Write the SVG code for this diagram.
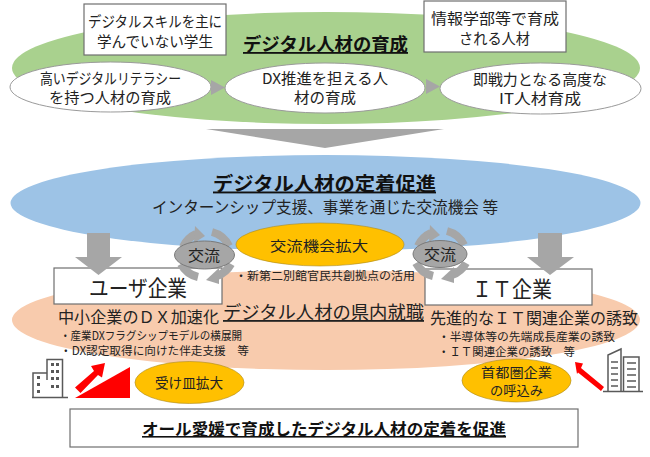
<svg xmlns="http://www.w3.org/2000/svg" width="650" height="457" viewBox="0 0 650 457">
<style>
text{font-family:"Noto Sans CJK JP","Noto Sans CJK SC",sans-serif;fill:#222;text-anchor:start}
.s12{font-size:11.500px}.s13{font-size:13px}.s14{font-size:14px}.s15{font-size:15px}.s16{font-size:16px}.s18{font-size:18px}.s19{font-size:19px}.s22{font-size:22px}
.b{font-weight:700;fill:#111}.u{text-decoration:underline}
.box{fill:#fff;stroke:#6f6f6f;stroke-width:1.2}
.oval{fill:#fff;stroke:#9a9a9a;stroke-width:1}
.yel{fill:#ffc000;stroke:#a98a20;stroke-width:.6}
.ar{fill:#a6a6a6}
.rot{fill:none;stroke:#a6a6a6;stroke-width:8}
.kou{fill:#a6a6a6;stroke:#7a7a7a;stroke-width:1}
.bl{fill:none;stroke:#595959;stroke-width:1.5}
.win{fill:#595959}
</style>
<defs>
<g id="rotate">
<path class="rot" d="M183 247A26 26 0 0 1 196 234"/>
<polygon class="ar" points="195,226 205,236 194,243"/>
<path class="rot" d="M212 232A26 26 0 0 1 229 246"/>
<path class="rot" d="M231 264A26 26 0 0 1 217 276"/>
<polygon class="ar" points="219,268 206,280 219,284"/>
<path class="rot" d="M181 264A26 26 0 0 0 198 277"/>
</g>
</defs>

<g id="band-ikusei">
<ellipse cx="326" cy="68" rx="314" ry="56" fill="#a9d18e"/>
<text class="s18 b u" x="243" y="51" textLength="165" lengthAdjust="spacingAndGlyphs">デジタル人材の育成</text>
</g>
<g id="band-teichaku">
<ellipse cx="325.500" cy="203" rx="315" ry="48" fill="#9dc3e6"/>
<text class="s19 b u" x="213" y="190.500" textLength="223" lengthAdjust="spacingAndGlyphs">デジタル人材の定着促進</text>
<text class="s16" x="152" y="213" textLength="346" lengthAdjust="spacingAndGlyphs">インターンシップ支援、事業を通じた交流機会 等</text>
</g>
<g id="band-shuushoku">
<ellipse cx="326" cy="320" rx="314" ry="50" fill="#f8cbad"/>
<text class="s18 u" x="223" y="319" textLength="201" lengthAdjust="spacingAndGlyphs">デジタル人材の県内就職</text>
<text class="s16" x="58" y="323" textLength="161" lengthAdjust="spacingAndGlyphs">中小企業のＤＸ加速化</text>
<text class="s12" x="60" y="340" textLength="182" lengthAdjust="spacingAndGlyphs">・産業DXフラグシップモデルの横展開</text>
<text class="s12" x="60" y="354.500" textLength="189" lengthAdjust="spacingAndGlyphs">・DX認定取得に向けた伴走支援　等</text>
<text class="s16" x="430" y="324" textLength="208" lengthAdjust="spacingAndGlyphs">先進的なＩＴ関連企業の誘致</text>
<text class="s12" x="438" y="341" textLength="177" lengthAdjust="spacingAndGlyphs">・半導体等の先端成長産業の誘致</text>
<text class="s12" x="438" y="356" textLength="137" lengthAdjust="spacingAndGlyphs">・ＩＴ関連企業の誘致　等</text>
</g>

<g id="box-student">
<rect class="box" x="84" y="4" width="142" height="51"/>
<text class="s15" x="88" y="27" textLength="134" lengthAdjust="spacingAndGlyphs">デジタルスキルを主に</text>
<text class="s15" x="97" y="47" textLength="116" lengthAdjust="spacingAndGlyphs">学んでいない学生</text>
</g>
<g id="box-faculty">
<rect class="box" x="424" y="1" width="142" height="51"/>
<text class="s15" x="431" y="24" textLength="128" lengthAdjust="spacingAndGlyphs">情報学部等で育成</text>
<text class="s15" x="459" y="44" textLength="71" lengthAdjust="spacingAndGlyphs">される人材</text>
</g>
<g id="oval-literacy">
<ellipse class="oval" cx="110.500" cy="87" rx="100.500" ry="25"/>
<text class="s15" x="40" y="84" textLength="141" lengthAdjust="spacingAndGlyphs">高いデジタルリテラシー</text>
<text class="s15" x="49" y="103" textLength="122" lengthAdjust="spacingAndGlyphs">を持つ人材の育成</text>
</g>
<g id="oval-dx">
<ellipse class="oval" cx="325" cy="88" rx="100" ry="25"/>
<text class="s15" x="262" y="84" textLength="126" lengthAdjust="spacingAndGlyphs">DX推進を担える人</text>
<text class="s15" x="294" y="103" textLength="62" lengthAdjust="spacingAndGlyphs">材の育成</text>
</g>
<g id="oval-it">
<ellipse class="oval" cx="540.500" cy="88.500" rx="100.500" ry="25.500"/>
<text class="s15" x="473" y="85" textLength="134" lengthAdjust="spacingAndGlyphs">即戦力となる高度な</text>
<text class="s15" x="499" y="104" textLength="82" lengthAdjust="spacingAndGlyphs">IT人材育成</text>
</g>

<g id="box-user">
<rect class="box" x="54" y="268" width="168" height="36"/>
<text class="s22" x="89" y="296" textLength="98" lengthAdjust="spacingAndGlyphs">ユーザ企業</text>
</g>
<g id="box-it">
<rect class="box" x="425" y="269" width="167" height="36"/>
<text class="s22" x="472" y="297" textLength="80" lengthAdjust="spacingAndGlyphs">ＩＴ企業</text>
</g>

<g id="connectors">
<polygon class="ar" points="211,80 225,87.500 211,95"/>
<polygon class="ar" points="426,79 440,86.500 426,94"/>
<polygon class="ar" points="206,129 444,129 325,148"/>
<polygon class="ar" points="87,233 110,233 110,257 122,257 98.500,275 75,257 87,257"/>
<polygon class="ar" points="538,233 562,233 562,257 574,257 550,275 527,257 538,257"/>
<use href="#rotate"/>
<use href="#rotate" x="235" y="-1"/>
<polygon fill="#f00" points="75,387.500 94,371 91,366 105,363 102,377.500 98,375 80.500,393"/>
<polygon fill="#f00" points="575,362 583,363.500 581,368 604,387 601,391 578,372.500 577,374"/>
</g>

<g id="kouryu-left">
<ellipse class="kou" cx="204.500" cy="255" rx="30" ry="14"/>
<text class="s15" x="188" y="261" textLength="32" lengthAdjust="spacingAndGlyphs">交流</text>
</g>
<g id="kouryu-right">
<ellipse class="kou" cx="440" cy="254" rx="27" ry="13.500"/>
<text class="s15" x="424" y="260" textLength="32" lengthAdjust="spacingAndGlyphs">交流</text>
</g>
<g id="oval-kikai">
<ellipse class="yel" cx="320" cy="244.500" rx="84" ry="21.500"/>
<text class="s14" x="270" y="251" textLength="98" lengthAdjust="spacingAndGlyphs">交流機会拡大</text>
</g>
<text class="s12" x="235" y="280" textLength="180" lengthAdjust="spacingAndGlyphs">・新第二別館官民共創拠点の活用</text>

<g id="oval-ukezara">
<ellipse class="yel" cx="189.500" cy="382.500" rx="54.500" ry="21"/>
<text class="s14" x="155" y="388" textLength="68" lengthAdjust="spacingAndGlyphs">受け皿拡大</text>
</g>
<g id="oval-shuto">
<ellipse class="yel" cx="516.500" cy="380.500" rx="54.500" ry="21.500"/>
<text class="s13" x="481" y="376.500" textLength="71" lengthAdjust="spacingAndGlyphs">首都圏企業</text>
<text class="s13" x="490" y="394.500" textLength="53" lengthAdjust="spacingAndGlyphs">の呼込み</text>
</g>

<g id="icon-office">
<polygon fill="#f00" points="75,398 130,367 130,398"/>
<path class="bl" d="M32 397.500H68M33 397.500V373H47V359.500H62.500V397.500M47 373V380"/>
<g class="win">
<rect x="51" y="363" width="3" height="3"/><rect x="56" y="363" width="3" height="3"/>
<rect x="51" y="370" width="3" height="3"/><rect x="56" y="370" width="3" height="3"/>
<rect x="51" y="377" width="3" height="3"/><rect x="56" y="377" width="3" height="3"/>
<rect x="51" y="385" width="3" height="3"/><rect x="56" y="385" width="3" height="3"/>
<rect x="37" y="376" width="3" height="3"/><rect x="37" y="383" width="3" height="3"/><rect x="37" y="390" width="3" height="3"/>
</g>
</g>
<g id="icon-tower">
<path class="bl" d="M603 391.500H643M608 391.500V355L621 349V391.500M623.500 391.500V357H639V391.500"/>
<path class="bl" d="M611 362H618M611 368H618M611 374H618M611 380H618M611 386H618M627 363H636M627 369H636M627 375H636M627 381H636M627 387H636"/>
</g>

<g id="box-goal">
<rect class="box" x="70" y="409" width="508" height="38"/>
<text class="s16 b u" x="142" y="435" textLength="364" lengthAdjust="spacingAndGlyphs">オール愛媛で育成したデジタル人材の定着を促進</text>
</g>
</svg>
